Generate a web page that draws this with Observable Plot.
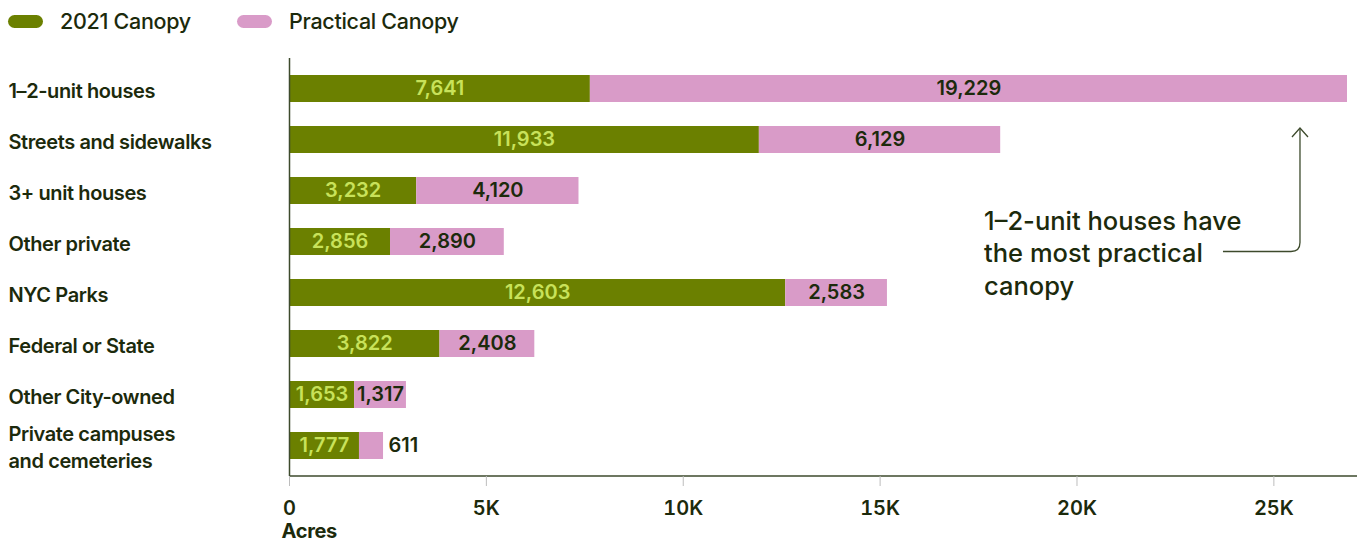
<!DOCTYPE html>
<html>
<head>
<meta charset="utf-8">
<script src="https://cdn.jsdelivr.net/npm/d3@7"></script>
<script src="https://cdn.jsdelivr.net/npm/@observablehq/plot@0.6"></script>
<style>
  html, body { margin: 0; padding: 0; background: #fff; }
  body { font-family: Inter, "Noto Sans", sans-serif; color: #1c2a0c; width: 1357px; height: 542px; overflow: hidden; }
  .legend { position: relative; height: 42px; }
  .legend .item { position: absolute; top: 0; height: 42px; display: flex; align-items: center; }
  .legend .sw { width: 35px; height: 13px; border-radius: 6.5px; margin-right: 17px; }
  .legend .lab { font-size: 21.5px; font-weight: 500; letter-spacing: -0.3px; position: relative; top: 0px; }
  #chart svg { display: block; }
</style>
</head>
<body>
<div class="legend" id="legend"></div>
<div id="chart"></div>
<script>
// ---- data ----
const categories = [
  "1–2-unit houses",
  "Streets and sidewalks",
  "3+ unit houses",
  "Other private",
  "NYC Parks",
  "Federal or State",
  "Other City-owned",
  "Private campuses\nand cemeteries"
];
const series = ["2021 Canopy", "Practical Canopy"];
// bar lengths as drawn in the picture
const canopy2021 = [7641, 11933, 3232, 2565, 12603, 3822, 1653, 1777];
const practical = [19229, 6129, 4120, 2890, 2583, 2408, 1317, 611];
// value labels as printed in the picture
const canopy2021Labels = ["7,641", "11,933", "3,232", "2,856", "12,603", "3,822", "1,653", "1,777"];
const practicalLabels = ["19,229", "6,129", "4,120", "2,890", "2,583", "2,408", "1,317", "611"];
const xTicks = [0, 5000, 10000, 15000, 20000, 25000];
const xTickLabels = ["0", "5K", "10K", "15K", "20K", "25K"];
const annotationText = "1–2-unit houses have\nthe most practical\ncanopy";

// ---- styles ----
const GREEN = "#6b8000";
const PINK = "#d99bc8";
const LIGHT = "#c8e25a";
const DARK = "#1c2a0c";
const AXIS = "#3d4a2c";

// legend
const legend = document.getElementById("legend");
const legendX = [8, 237];
series.forEach((s, i) => {
  const it = document.createElement("div");
  it.className = "item";
  it.style.left = legendX[i] + "px";
  it.innerHTML = `<div class="sw" style="background:${i === 0 ? GREEN : PINK}"></div><div class="lab">${s}</div>`;
  legend.appendChild(it);
});

const rows = [];
categories.forEach((c, i) => {
  rows.push({category: c, series: series[0], value: canopy2021[i], label: canopy2021Labels[i]});
  rows.push({category: c, series: series[1], value: practical[i], label: practicalLabels[i]});
});
const totals = new Map(categories.map((c, i) => [c, canopy2021[i] + practical[i]]));
const isSmall = d => d.value < 1000;

const width = 1357, height = 500;
const marginLeft = 289, marginRight = 10, marginTop = 16, marginBottom = 66;

function xAxisLine(index, scales, values, dims) {
  const l = document.createElementNS("http://www.w3.org/2000/svg", "line");
  l.setAttribute("x1", dims.marginLeft);
  l.setAttribute("x2", dims.width);
  l.setAttribute("y1", dims.height - dims.marginBottom);
  l.setAttribute("y2", dims.height - dims.marginBottom);
  l.setAttribute("stroke", AXIS);
  l.setAttribute("stroke-width", 1.5);
  return l;
}

function annotationArrow(index, scales, values, dims) {
  const bw = typeof scales.y.bandwidth === "function" ? scales.y.bandwidth() : 0;
  const cy = c => scales.y(c) + bw / 2;
  const xStart = scales.x(23720);
  const xV = scales.x(25676);
  const yH = cy(categories[3]) + 10;
  const yTop = cy(categories[0]) + bw / 2 + 26;
  const r = 9;
  const g = document.createElementNS("http://www.w3.org/2000/svg", "g");
  const p = document.createElementNS("http://www.w3.org/2000/svg", "path");
  p.setAttribute("d", `M${xStart},${yH} H${xV - r} Q${xV},${yH} ${xV},${yH - r} V${yTop}`);
  p.setAttribute("fill", "none");
  p.setAttribute("stroke", AXIS);
  p.setAttribute("stroke-width", 1.3);
  g.appendChild(p);
  const h = document.createElementNS("http://www.w3.org/2000/svg", "path");
  h.setAttribute("d", `M${xV - 8},${yTop + 9} L${xV},${yTop} L${xV + 8},${yTop + 9}`);
  h.setAttribute("fill", "none");
  h.setAttribute("stroke", AXIS);
  h.setAttribute("stroke-width", 1.3);
  g.appendChild(h);
  return g;
}

const plot = Plot.plot({
  width, height, marginLeft, marginRight, marginTop, marginBottom,
  style: {fontFamily: "Inter, 'Noto Sans', sans-serif", color: DARK, background: "#fff", overflow: "visible"},
  x: {domain: [0, d3.max(totals.values())], axis: null},
  y: {domain: categories, paddingInner: 0.47, paddingOuter: 0.33, axis: null},
  color: {domain: series, range: [GREEN, PINK]},
  marks: [
    Plot.barX(rows, Plot.stackX({x: "value", y: "category", fill: "series", order: series})),
    Plot.ruleX([0], {stroke: AXIS, strokeWidth: 1.5}),
    xAxisLine,
    Plot.axisX({ticks: xTicks, tickFormat: d => xTickLabels[xTicks.indexOf(d)], tickSize: 10, tickPadding: 14,
      stroke: "#bdbdbd", fill: DARK, fontSize: 20, fontWeight: 600, label: null}),
    Plot.text(["Acres"], {frameAnchor: "bottom-left", lineAnchor: "middle", dx: -8, dy: 55, textAnchor: "start",
      fontSize: 20, fontWeight: 700, fill: DARK}),
    Plot.text(categories, {y: d => d, frameAnchor: "left", dx: -281, textAnchor: "start", lineHeight: 1.35,
      fontSize: 20, fontWeight: 600, fill: DARK}),
    Plot.textX(rows, Plot.stackX({x: "value", y: "category", order: series,
      text: d => isSmall(d) ? "" : d.label,
      fill: d => d.series === series[0] ? LIGHT : DARK,
      fontSize: 20, fontWeight: 600})),
    Plot.text(rows.filter(isSmall), {x: d => totals.get(d.category), y: "category", text: "label",
      dx: 5, textAnchor: "start", fill: DARK, fontSize: 20, fontWeight: 600}),
    Plot.text([annotationText], {x: 17640, y: [categories[3]], dy: 10, textAnchor: "start", lineHeight: 1.28,
      fontSize: 25.5, fontWeight: 500, fill: DARK}),
    annotationArrow
  ]
});
// tighten the letter spacing of the category labels, as in the reference
const textGroups = plot.querySelectorAll('g[aria-label="text"]');
if (textGroups[1]) textGroups[1].style.letterSpacing = "-0.4px";
if (textGroups[0]) textGroups[0].style.letterSpacing = "-0.3px";
document.getElementById("chart").appendChild(plot);
</script>
</body>
</html>
